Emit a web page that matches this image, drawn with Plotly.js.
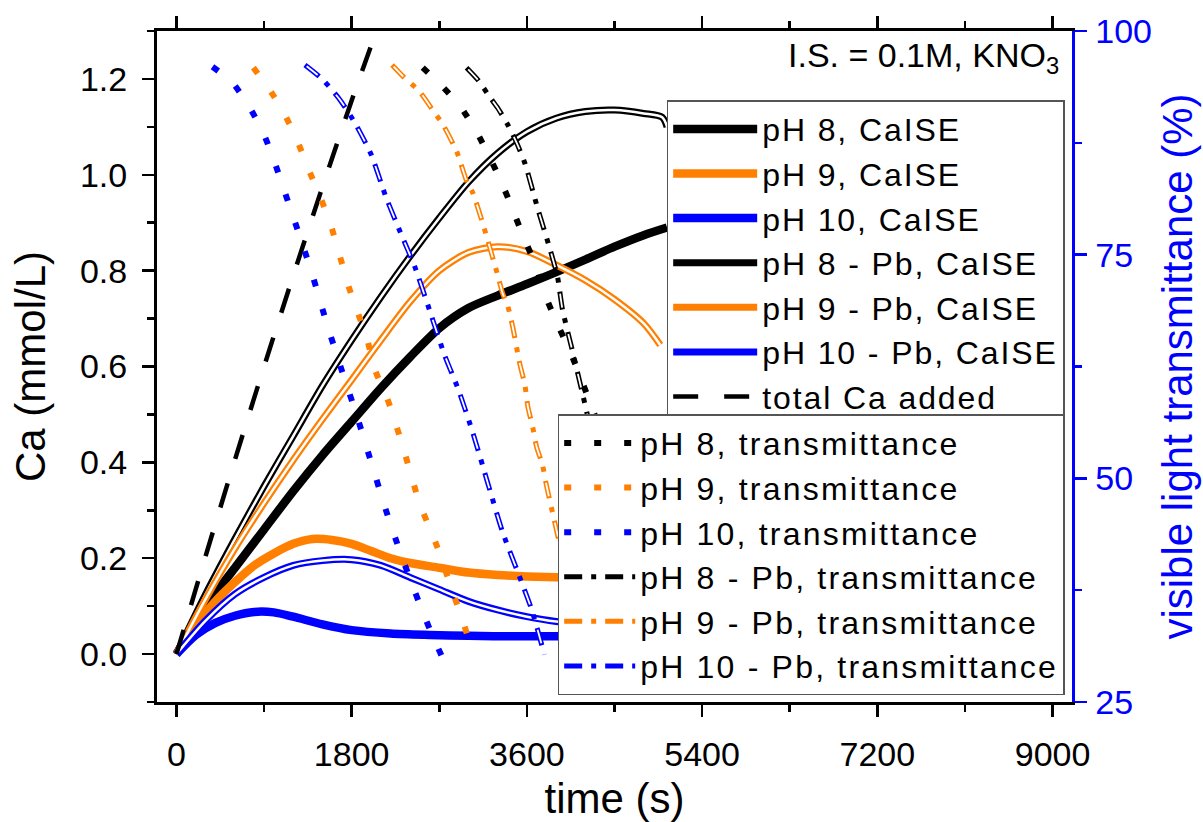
<!DOCTYPE html>
<html>
<head>
<meta charset="utf-8">
<script src="https://cdn.plot.ly/plotly-3.0.1.min.js"></script>
<style>
html,body{margin:0;padding:0;background:#fff;}
.legendtext{letter-spacing:1.9px;}
.legend2text{letter-spacing:2.2px;}
</style>
</head>
<body>
<div id="chart" style="width:1203px;height:822px;"></div>
<script>
// ---- Ca ISE series (left axis, mmol/L) ----
const tPH8 = [0, 300, 600, 900, 1200, 1500, 1800, 2100, 2400, 2700, 3000, 3300, 3600, 3900, 4200, 4500, 4800, 5040];
const caPH8 = [0, 0.10, 0.18, 0.26, 0.34, 0.415, 0.485, 0.555, 0.62, 0.68, 0.722, 0.748, 0.772, 0.797, 0.823, 0.85, 0.874, 0.89];

const tPH9 = [0, 200, 400, 600, 800, 1000, 1200, 1400, 1600, 1800, 2000, 2200, 2400, 2700, 3000, 3300, 3600, 4000, 4500, 5000];
const caPH9 = [0, 0.06, 0.11, 0.15, 0.185, 0.21, 0.23, 0.24, 0.238, 0.23, 0.215, 0.20, 0.19, 0.18, 0.17, 0.165, 0.162, 0.16, 0.16, 0.16];

const tPH10 = [0, 200, 400, 600, 800, 1000, 1200, 1500, 1800, 2200, 2600, 3000, 3500, 4000, 5000];
const caPH10 = [0, 0.04, 0.065, 0.08, 0.088, 0.087, 0.078, 0.062, 0.05, 0.043, 0.04, 0.038, 0.037, 0.037, 0.037];

const tPH8Pb = [0, 300, 600, 900, 1200, 1500, 1800, 2100, 2400, 2700, 3000, 3300, 3600, 3900, 4200, 4500, 4800, 4990, 5040];
const caPH8Pb = [0, 0.125, 0.24, 0.35, 0.455, 0.56, 0.655, 0.745, 0.83, 0.91, 0.985, 1.045, 1.09, 1.118, 1.132, 1.135, 1.128, 1.12, 1.10];

const tPH9Pb = [0, 300, 600, 900, 1200, 1500, 1800, 2100, 2400, 2700, 3000, 3300, 3600, 3900, 4200, 4500, 4800, 4970];
const caPH9Pb = [0, 0.115, 0.22, 0.315, 0.405, 0.49, 0.572, 0.655, 0.735, 0.80, 0.838, 0.85, 0.84, 0.812, 0.78, 0.74, 0.69, 0.645];

const tPH10Pb = [0, 300, 600, 900, 1200, 1500, 1800, 2100, 2400, 2700, 3000, 3300, 3600, 3900, 4200, 5000];
const caPH10Pb = [0, 0.07, 0.125, 0.16, 0.185, 0.195, 0.197, 0.185, 0.16, 0.135, 0.11, 0.092, 0.078, 0.068, 0.063, 0.06];

const tTotal = [0, 300, 600, 900, 1200, 1500, 1800, 2010];
const caTotal = [0, 0.205, 0.405, 0.60, 0.79, 0.975, 1.155, 1.275];

// ---- transmittance series (right axis, %) ----
const tTr8 = [2530, 2740, 2920, 3085, 3230, 3330, 3445, 3560, 3690, 3780, 3895, 4070, 4265, 4500, 4750, 5000];
const tr8 = [95.9, 93.7, 91.5, 88.7, 85.6, 83.3, 80.3, 77.1, 73.8, 70.7, 67.7, 63.5, 58.0, 51.0, 42.5, 31.0];

const tTr9 = [790, 960, 1120, 1250, 1370, 1490, 1600, 1690, 1770, 1860, 1960, 2040, 2160, 2240, 2330, 2420, 2500, 2580, 2680, 2860, 2950, 3040];
const tr9 = [95.9, 93.4, 90.5, 87.5, 84.2, 81.1, 77.8, 74.4, 71.4, 68.6, 65.5, 62.1, 59.1, 56.5, 53.4, 50.0, 47.1, 45.0, 42.3, 36.6, 33.8, 30.6];

const tTr10 = [370, 570, 750, 900, 1000, 1100, 1200, 1300, 1400, 1550, 1700, 1850, 2000, 2150, 2300, 2450, 2600, 2730];
const tr10 = [96.0, 94.3, 91.5, 88.4, 85.6, 82.4, 79.2, 76.0, 72.6, 67.1, 62.0, 57.1, 51.8, 46.5, 41.7, 37.3, 33.2, 30.0];

const tTr8Pb = [2980, 3100, 3220, 3300, 3405, 3495, 3580, 3710, 3835, 3915, 3965, 4060, 4160, 4215, 4450, 4650, 4790];
const tr8Pb = [95.9, 94.5, 92.6, 91.4, 89.5, 87.5, 85.2, 80.2, 75.7, 72.5, 68.9, 64.6, 60.0, 57.4, 45.6, 35.6, 29.0];

const tTr9Pb = [2215, 2330, 2500, 2655, 2740, 2880, 2985, 3045, 3135, 3190, 3300, 3350, 3405, 3455, 3525, 3580, 3610, 3660, 3700, 3760, 3805, 3865, 3950, 4050, 4150, 4230];
const tr9Pb = [96.2, 94.9, 93.2, 90.8, 89.5, 86.5, 83.1, 81.9, 78.9, 76.9, 72.7, 70.7, 69.2, 66.9, 62.9, 60.4, 58.0, 55.7, 53.5, 51.5, 49.0, 46.1, 42.0, 37.3, 32.6, 29.0];

const tTr10Pb = [1320, 1500, 1680, 1840, 2000, 2150, 2300, 2450, 2600, 2750, 2900, 3050, 3200, 3350, 3500, 3650, 3780];
const tr10Pb = [96.2, 94.6, 92.3, 89.6, 86.2, 81.5, 77.5, 73.6, 68.8, 63.9, 59.8, 54.9, 49.4, 44.0, 39.7, 35.3, 30.3];

const xTicks = [0, 1800, 3600, 5400, 7200, 9000];

const BLACK = '#000000', ORANGE = '#ff7f00', BLUE = '#0000ff';
const FONT = 'Liberation Sans, Arial, sans-serif';

const traces = [];
function solid(name, x, y, color) {
  traces.push({x, y, name, type: 'scatter', mode: 'lines', legend: 'legend',
    line: {color, width: 8.5, shape: 'spline', smoothing: 0.8}});
}
function hollow(name, x, y, color) {
  traces.push({x, y, name, type: 'scatter', mode: 'lines', legend: 'legend',
    line: {color, width: 7, shape: 'spline', smoothing: 0.8}});
  traces.push({x, y, name: name + ' (inner)', type: 'scatter', mode: 'lines', showlegend: false,
    hoverinfo: 'skip', line: {color: '#ffffff', width: 2.5, shape: 'spline', smoothing: 0.8}});
}
solid('pH 8, CaISE', tPH8, caPH8, BLACK);
solid('pH 9, CaISE', tPH9, caPH9, ORANGE);
solid('pH 10, CaISE', tPH10, caPH10, BLUE);
hollow('pH 8 - Pb, CaISE', tPH8Pb, caPH8Pb, BLACK);
hollow('pH 9 - Pb, CaISE', tPH9Pb, caPH9Pb, ORANGE);
hollow('pH 10 - Pb, CaISE', tPH10Pb, caPH10Pb, BLUE);
traces.push({x: tTotal, y: caTotal, name: 'total Ca added', type: 'scatter', mode: 'lines', legend: 'legend',
  line: {color: BLACK, width: 4.5, dash: '25px,26px', shape: 'spline', smoothing: 0.6}});

function dotted(name, x, y, color) {
  traces.push({x, y, name, type: 'scatter', mode: 'lines', yaxis: 'y2', legend: 'legend2',
    line: {color, width: 6, dash: '7px,23px', shape: 'spline', smoothing: 0.6}});
}
function dashdot(name, x, y, color) {
  traces.push({x, y, name, type: 'scatter', mode: 'lines', yaxis: 'y2', legend: 'legend2',
    line: {color, width: 5, dash: '18px,9px,5px,9px', shape: 'spline', smoothing: 0.6}});
  traces.push({x, y, name: name + ' (inner)', type: 'scatter', mode: 'lines', yaxis: 'y2', showlegend: false,
    hoverinfo: 'skip', line: {color: '#ffffff', width: 1.8, dash: '0px,2px,14px,25px', shape: 'spline', smoothing: 0.6}});
}
dotted('pH 8, transmittance', tTr8, tr8, BLACK);
dotted('pH 9, transmittance', tTr9, tr9, ORANGE);
dotted('pH 10, transmittance', tTr10, tr10, BLUE);
dashdot('pH 8 - Pb, transmittance', tTr8Pb, tr8Pb, BLACK);
dashdot('pH 9 - Pb, transmittance', tTr9Pb, tr9Pb, ORANGE);
dashdot('pH 10 - Pb, transmittance', tTr10Pb, tr10Pb, BLUE);

const layout = {
  width: 1203, height: 822,
  margin: {l: 157, r: 131, t: 31, b: 120, pad: 0},
  paper_bgcolor: '#ffffff', plot_bgcolor: '#ffffff',
  font: {family: FONT, color: '#000'},
  showlegend: true,
  xaxis: {
    range: [-200, 9200], tickvals: xTicks, ticktext: xTicks.map(String),
    ticks: 'outside', ticklen: 12, tickwidth: 2.5, tickcolor: '#000',
    linewidth: 3, linecolor: '#000', mirror: 'ticks', showline: true,
    showgrid: false, zeroline: false,
    tickfont: {size: 34, family: FONT},
    ticklabelstandoff: 8,
    minor: {dtick: 900, tick0: 0, ticks: 'outside', ticklen: 7, tickwidth: 2.5, tickcolor: '#000', showgrid: false},
    title: {text: 'time (s)', font: {size: 42, family: FONT}, standoff: 18}
  },
  yaxis: {
    range: [-0.1, 1.3], dtick: 0.2, tick0: 0, tickformat: '.1f',
    ticks: 'outside', ticklen: 12, tickwidth: 2.5, tickcolor: '#000',
    linewidth: 3, linecolor: '#000', showline: true,
    showgrid: false, zeroline: false,
    tickfont: {size: 34, family: FONT},
    ticklabelstandoff: 8,
    minor: {dtick: 0.1, tick0: 0, ticks: 'outside', ticklen: 7, tickwidth: 2.5, tickcolor: '#000', showgrid: false},
    title: {text: 'Ca (mmol/L)', font: {size: 42, family: FONT}, standoff: 22}
  },
  yaxis2: {
    overlaying: 'y', side: 'right',
    range: [25, 100], dtick: 25, tick0: 25,
    ticks: 'outside', ticklen: 12, tickwidth: 2.5, tickcolor: BLUE,
    linewidth: 2.5, linecolor: BLUE, showline: true,
    showgrid: false, zeroline: false,
    tickfont: {size: 34, family: FONT, color: BLUE},
    ticklabelstandoff: 2,
    minor: {dtick: 12.5, tick0: 25, ticks: 'outside', ticklen: 7, tickwidth: 2.5, tickcolor: BLUE, showgrid: false},
    title: {text: 'visible light transmittance (%)', font: {size: 42, family: FONT, color: BLUE}, standoff: 12}
  },
  legend: {
    x: 0.992, xanchor: 'right', y: 0.897, yanchor: 'top',
    bgcolor: '#ffffff', bordercolor: '#555555', borderwidth: 1.5,
    font: {size: 32, family: FONT, color: '#000'},
    itemwidth: 84, traceorder: 'normal', tracegroupgap: 0
  },
  legend2: {
    x: 0.992, xanchor: 'right', y: 0.429, yanchor: 'top',
    bgcolor: '#ffffff', bordercolor: '#555555', borderwidth: 1.5,
    font: {size: 32, family: FONT, color: '#000'},
    itemwidth: 71, traceorder: 'normal', tracegroupgap: 0
  },
  annotations: [{
    xref: 'paper', yref: 'paper', x: 0.988, y: 0.961, xanchor: 'right', yanchor: 'middle',
    showarrow: false, text: 'I.S. = 0.1M, KNO<sub>3</sub>',
    font: {size: 34, family: FONT, color: '#000'}
  }]
};

Plotly.newPlot('chart', traces, layout, {displayModeBar: false, staticPlot: true});
</script>
</body>
</html>
